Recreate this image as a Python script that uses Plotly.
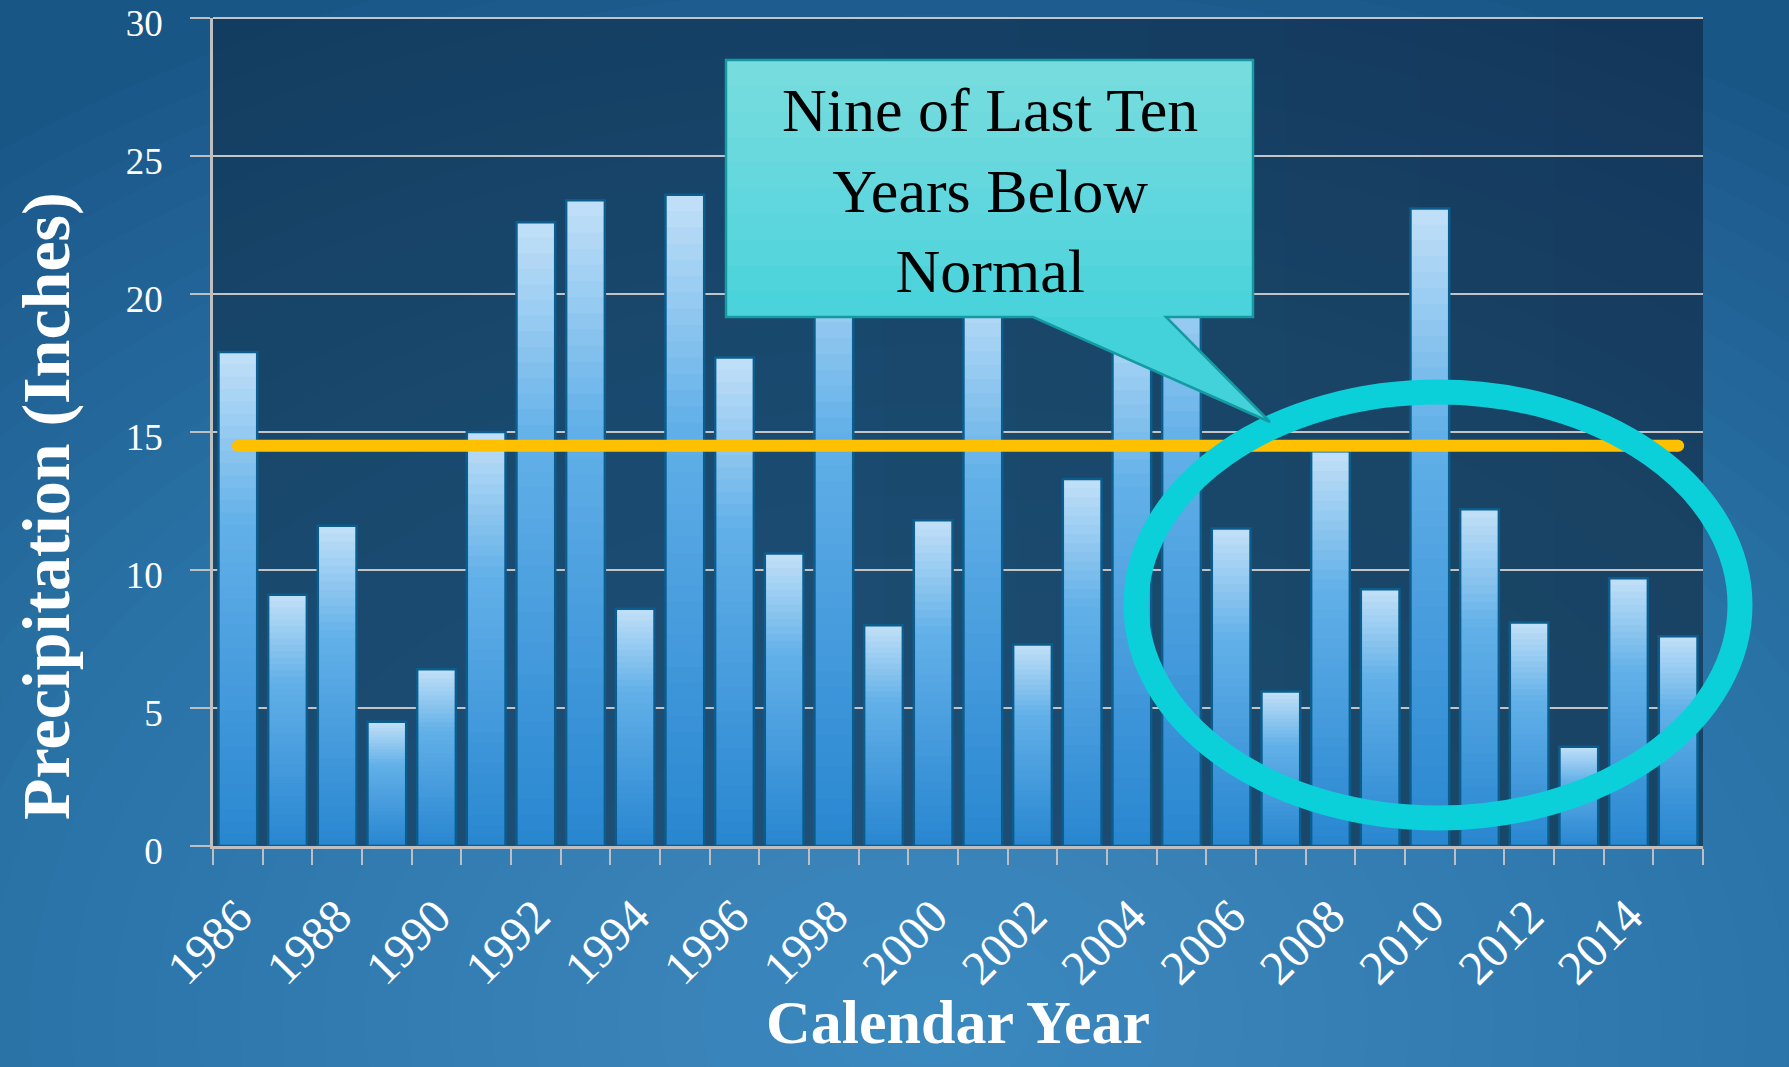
import plotly.graph_objects as go

# ---------------- data ----------------
years = [str(y) for y in range(1986, 2016)]
precip = [17.9, 9.1, 11.6, 4.5, 6.4, 15.0, 22.6, 23.4, 8.6, 23.6,
          17.7, 10.6, 23.0, 8.0, 11.8, 20.5, 7.3, 13.3, 20.0, 22.5,
          11.5, 5.6, 14.3, 9.3, 23.1, 12.2, 8.1, 3.6, 9.7, 7.6]
normal_value = 14.5
y_ticks = [0, 5, 10, 15, 20, 25, 30]
x_tick_text = [y if int(y) % 2 == 0 else "" for y in years]
callout_text = "Nine of Last Ten<br>Years Below<br>Normal"
y_title = "Precipitation (Inches)"
x_title = "Calendar Year"

W, H = 1789, 1067
L, R, T, B = 213, 86, 18, 221
PW, PH = W - L - R, H - T - B


def px_x(x):
    return (x - L) / PW


def px_y(y):
    return (H - B - y) / PH


def mix(c1, c2, t):
    t = max(0.0, min(1.0, t))
    a = [int(c1[i:i + 2], 16) for i in (1, 3, 5)]
    b = [int(c2[i:i + 2], 16) for i in (1, 3, 5)]
    return "#%02x%02x%02x" % tuple(round(a[i] + (b[i] - a[i]) * t) for i in range(3))


fig = go.Figure()

# bars drawn with a vertical gradient: each layer spans from a fraction of the bar up to its top
N = 40
bottom_col, mid_col, top_col = "#2886d0", "#62b0e8", "#c2e0f8"
bar_w = 0.78
for k in range(N):
    f = k / N
    t = (k + 0.5) / N
    col = mix(bottom_col, mid_col, t / 0.65) if t < 0.65 else mix(mid_col, top_col, (t - 0.65) / 0.35)
    fig.add_trace(go.Bar(
        x=years, y=[v * (1 - f) for v in precip], base=[v * f for v in precip],
        width=bar_w, marker=dict(color=col, line=dict(width=0)),
        hoverinfo="skip", showlegend=False))
fig.add_trace(go.Bar(
    x=years, y=precip, width=bar_w,
    marker=dict(color="rgba(0,0,0,0)", line=dict(color="#0b5d8e", width=2.5)),
    showlegend=False, hovertemplate="%{x}: %{y}<extra></extra>"))

# normal line
fig.add_trace(go.Scatter(
    x=years, y=[normal_value] * len(years), mode="lines",
    line=dict(color="#FFC000", width=12), showlegend=False, hoverinfo="skip"))
fig.add_trace(go.Scatter(
    x=[years[0], years[-1]], y=[normal_value, normal_value], mode="markers",
    marker=dict(color="#FFC000", size=12), showlegend=False, hoverinfo="skip"))

shapes = []
# background glow (many faint layered ellipses)
base_glow = "#5cb2e2"
n_glow = 36
for i in range(n_glow):
    rx = 60 + i * 42
    ry = 45 + i * 30
    cx, cy = 930, 1020
    shapes.append(dict(type="circle", xref="paper", yref="paper", layer="below",
                       x0=px_x(cx - rx), x1=px_x(cx + rx), y0=px_y(cy + ry), y1=px_y(cy - ry),
                       fillcolor=base_glow, opacity=0.035, line=dict(width=0)))
# plot area darkening
shapes.append(dict(type="rect", xref="paper", yref="paper", layer="below",
                   x0=0, x1=1, y0=0, y1=1, fillcolor="#0f2d48", opacity=0.6, line=dict(width=0)))
for j in range(6):
    shapes.append(dict(type="rect", xref="paper", yref="paper", layer="below",
                       x0=0.45 + j * 0.09, x1=1, y0=0, y1=1, fillcolor="#0f2d48",
                       opacity=0.04, line=dict(width=0)))
# top border of plot area (gridline at 30)
shapes.append(dict(type="line", xref="paper", yref="paper", layer="below",
                   x0=0, x1=1, y0=1, y1=1, line=dict(color="#c4c4c4", width=2)))

# ellipse highlight
shapes.append(dict(type="circle", xref="paper", yref="paper", layer="above",
                   x0=px_x(1136), x1=px_x(1740), y0=px_y(818), y1=px_y(392),
                   line=dict(color="#0cd0d9", width=25)))

# callout
xl, xr, yt, yb = px_x(726), px_x(1253), px_y(60), px_y(317)
t1, t2, tx, ty = px_x(1033), px_x(1166), px_x(1270), px_y(422)
path = (f"M {xl},{yt} L {xr},{yt} L {xr},{yb} L {t2},{yb} L {tx},{ty} "
        f"L {t1},{yb} L {xl},{yb} Z")
shapes.append(dict(type="path", xref="paper", yref="paper", layer="above", path=path,
                   fillcolor="#43d2d9", line=dict(width=0)))
n_cg = 10
for j in range(n_cg):
    frac = (j + 1) / n_cg
    shapes.append(dict(type="rect", xref="paper", yref="paper", layer="above",
                       x0=xl, x1=xr, y0=yt - (yt - yb) * frac, y1=yt,
                       fillcolor="#b4f6f6", opacity=0.06, line=dict(width=0)))
shapes.append(dict(type="path", xref="paper", yref="paper", layer="above", path=path,
                   fillcolor="rgba(0,0,0,0)", line=dict(color="#159aa3", width=2.5)))

fig.update_layout(
    width=W, height=H, autosize=False,
    margin=dict(l=L, r=R, t=T, b=B, pad=0, autoexpand=False),
    paper_bgcolor="#185686", plot_bgcolor="rgba(0,0,0,0)",
    barmode="overlay", bargap=0.22,
    shapes=shapes,
    font=dict(family="Liberation Serif", color="white"),
    xaxis=dict(type="category", tickmode="array", tickvals=years, ticktext=x_tick_text,
               tickangle=-45, tickson="boundaries", ticks="outside", ticklen=16,
               tickwidth=2, tickcolor="#bfbfbf", ticklabelstandoff=20, automargin=False,
               tickfont=dict(family="Liberation Serif", size=48, color="white"),
               showline=True, linecolor="#bfbfbf", linewidth=2.5, showgrid=False,
               zeroline=False, range=[-0.5, 29.5]),
    yaxis=dict(range=[0, 30], tickvals=y_ticks, ticks="outside", ticklen=20,
               tickwidth=2, tickcolor="#bfbfbf", ticklabelstandoff=20,
               ticklabeloverflow="allow", automargin=False, ticklabelshift=5,
               tickfont=dict(family="Liberation Serif", size=37, color="white"),
               showline=True, linecolor="#bfbfbf", linewidth=2.5,
               showgrid=True, gridcolor="#c4c4c4", gridwidth=2, zeroline=False),
    annotations=[
        dict(text=callout_text, xref="paper", yref="paper", x=px_x(990), y=px_y(190),
             xanchor="center", yanchor="middle", showarrow=False, align="center",
             font=dict(family="Liberation Serif", size=62, color="black")),
        dict(text=f"<b>{y_title}</b>", xref="paper", yref="paper", x=px_x(46), y=px_y(506),
             xanchor="center", yanchor="middle", textangle=-90, showarrow=False,
             font=dict(family="Liberation Serif", size=68, color="white")),
        dict(text=f"<b>{x_title}</b>", xref="paper", yref="paper", x=0.5, y=px_y(986),
             xanchor="center", yanchor="top", showarrow=False,
             font=dict(family="Liberation Serif", size=62, color="white")),
    ],
)

fig.write_html("out.html")
